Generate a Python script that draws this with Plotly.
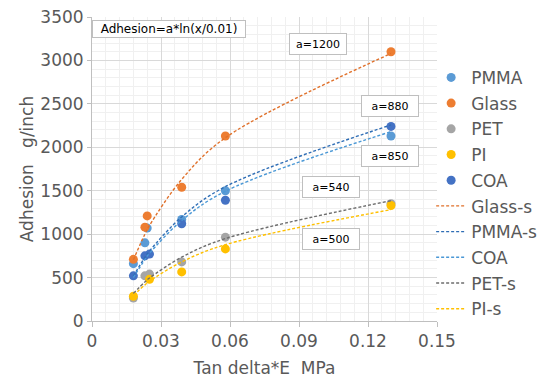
import plotly.graph_objects as go

# --- data ---
pmma_x = [0.018, 0.023, 0.024, 0.039, 0.058, 0.13]
pmma_y = [660, 900, 1070, 1170, 1500, 2130]
glass_x = [0.018, 0.023, 0.024, 0.039, 0.058, 0.13]
glass_y = [710, 1080, 1210, 1540, 2130, 3100]
pet_x = [0.018, 0.023, 0.025, 0.039, 0.058, 0.13]
pet_y = [265, 520, 540, 680, 965, 1350]
pi_x = [0.018, 0.025, 0.039, 0.058, 0.13]
pi_y = [285, 480, 565, 830, 1330]
coa_x = [0.018, 0.023, 0.025, 0.039, 0.058, 0.13]
coa_y = [520, 750, 770, 1120, 1390, 2240]

fit_x = [0.018, 0.023, 0.025, 0.039, 0.058, 0.13]
glass_s = [705, 1000, 1100, 1630, 2110, 3080]
pmma_s = [517, 733, 806, 1198, 1547, 2257]
coa_s = [500, 708, 779, 1157, 1494, 2180]
pet_s = [317, 450, 495, 735, 949, 1385]
pi_s = [294, 416, 458, 680, 879, 1282]

fit_labels = ["a=1200", "a=880", "a=850", "a=540", "a=500"]
label_x = [0.0983, 0.1296, 0.1296, 0.1039, 0.1039]
label_y = [3189, 2475, 1899, 1543, 944]

FONT = "DejaVu Sans"
TXT = "#595959"

fig = go.Figure()

markers = [
    ("PMMA", pmma_x, pmma_y, "#5B9BD5"),
    ("Glass", glass_x, glass_y, "#ED7D31"),
    ("PET", pet_x, pet_y, "#A5A5A5"),
    ("PI", pi_x, pi_y, "#FFC000"),
    ("COA", coa_x, coa_y, "#4472C4"),
]
for name, xs, ys, c in markers:
    fig.add_trace(go.Scatter(x=xs, y=ys, mode="markers", name=name,
                             marker=dict(color=c, size=9), legendgroup=name + "m"))

lines = [
    ("Glass-s", glass_s, "#E0702A"),
    ("PMMA-s", pmma_s, "#2E6DB5"),
    ("COA", coa_s, "#4A98D6"),
    ("PET-s", pet_s, "#6E6E6E"),
    ("PI-s", pi_s, "#FFC000"),
]
for name, ys, c in lines:
    fig.add_trace(go.Scatter(x=fit_x, y=ys, mode="lines", name=name,
                             line=dict(color=c, width=1.4, dash="3px,2px", shape="spline"),
                             legendgroup=name + "l"))

annotations = [
    dict(x=0.0333, y=3362, xref="x", yref="y", text="Adhesion=a*ln(x/0.01)",
         showarrow=False, font=dict(family=FONT, size=12, color="black"),
         bgcolor="white", bordercolor="#BFBFBF", borderwidth=1, borderpad=1,
         width=150, height=14)
]
for t, lx, ly in zip(fit_labels, label_x, label_y):
    annotations.append(dict(x=lx, y=ly, xref="x", yref="y", text=t, showarrow=False,
                            font=dict(family=FONT, size=11, color="black"),
                            bgcolor="white", bordercolor="#BFBFBF", borderwidth=1,
                            borderpad=1, width=54, height=18))

fig.update_layout(
    width=542, height=378,
    margin=dict(l=92, r=105, t=17, b=57, autoexpand=False),
    paper_bgcolor="white", plot_bgcolor="white",
    font=dict(family=FONT, color=TXT),
    showlegend=True,
    legend=dict(x=0.983, xanchor="left", y=0.859, yanchor="top",
                font=dict(family=FONT, size=17, color=TXT),
                itemwidth=30, tracegroupgap=0.6, bgcolor="rgba(0,0,0,0)"),
    annotations=annotations,
)
fig.update_xaxes(range=[0, 0.15], dtick=0.03, tick0=0, tickformat="~g", automargin=False,
                 showgrid=True, gridcolor="#D9D9D9", gridwidth=1,
                 minor=dict(dtick=0.006, showgrid=True, gridcolor="#F0F0F0"),
                 showline=True, linecolor="#BFBFBF", ticks="outside", ticklen=5,
                 tickcolor="#BFBFBF", zeroline=False,
                 tickfont=dict(family=FONT, size=17, color=TXT),
                 title=dict(text="Tan delta*E  MPa", font=dict(family=FONT, size=17, color=TXT),
                            standoff=11))
fig.update_yaxes(range=[0, 3500], dtick=500, tick0=0, automargin=False,
                 showgrid=True, gridcolor="#D9D9D9", gridwidth=1,
                 minor=dict(dtick=100, showgrid=True, gridcolor="#F0F0F0"),
                 showline=True, linecolor="#BFBFBF", ticks="outside", ticklen=4,
                 tickcolor="#BFBFBF", zeroline=False,
                 tickfont=dict(family=FONT, size=17, color=TXT),
                 title=dict(text="Adhesion   g/inch", font=dict(family=FONT, size=17, color=TXT),
                            standoff=2))

fig.write_html("out.html", config={"displayModeBar": False},
               post_script="document.body.style.margin='0';document.body.style.padding='0';")
